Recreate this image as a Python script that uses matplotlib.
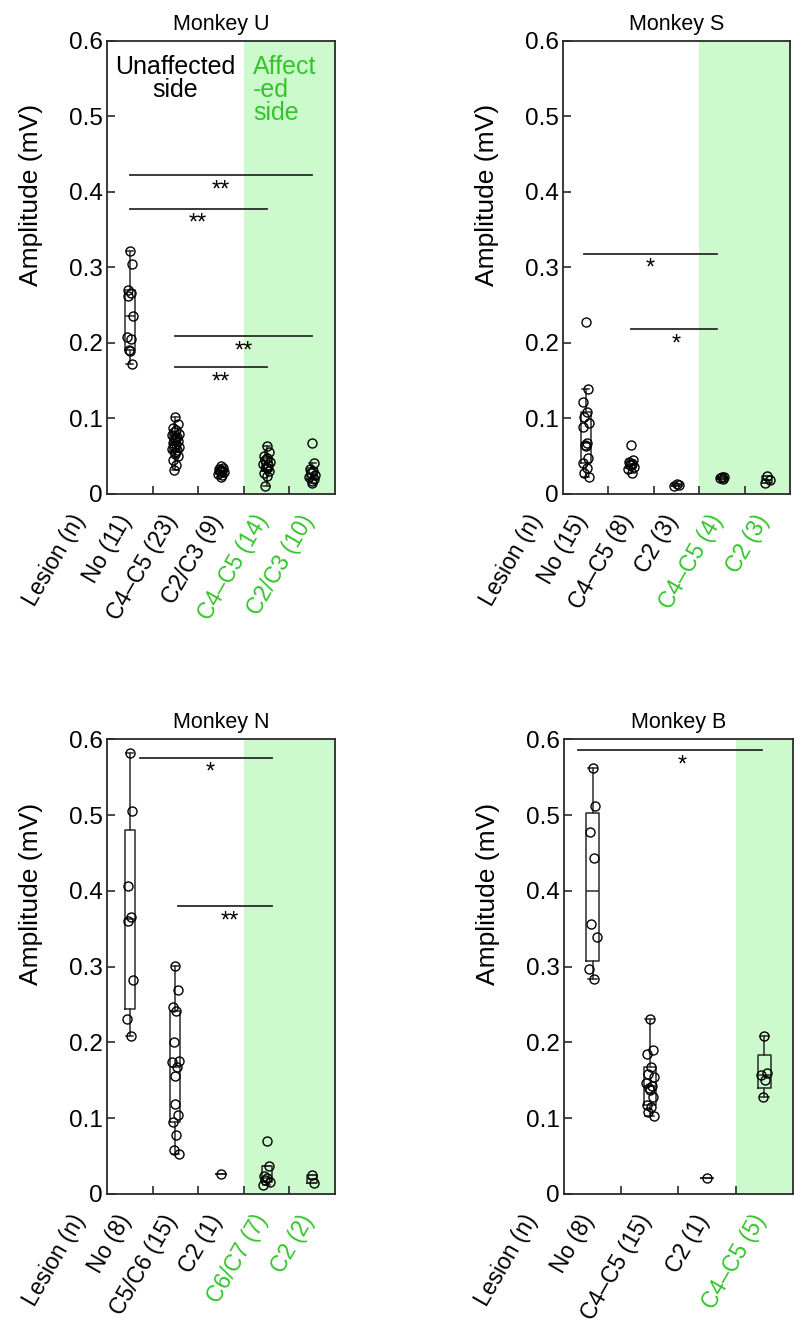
import numpy as np
import matplotlib
matplotlib.use("Agg")
import matplotlib.pyplot as plt

plt.rcParams['font.family'] = ['Liberation Sans', 'DejaVu Sans']

# ---------------- data ----------------
# Monkey U
u_cats = ["No (11)", "C4\u2013C5 (23)", "C2/C3 (9)", "C4\u2013C5 (14)", "C2/C3 (10)"]
u_no = [0.322, 0.305, 0.270, 0.266, 0.262, 0.236, 0.208, 0.205, 0.191, 0.189, 0.172]
u_c45 = [0.102, 0.092, 0.088, 0.085, 0.082, 0.080, 0.078, 0.076, 0.074, 0.072, 0.070, 0.068,
         0.066, 0.064, 0.062, 0.060, 0.058, 0.055, 0.053, 0.050, 0.045, 0.038, 0.032]
u_c23 = [0.037, 0.035, 0.033, 0.031, 0.030, 0.029, 0.027, 0.025, 0.022]
u_c45_aff = [0.064, 0.055, 0.050, 0.047, 0.045, 0.042, 0.040, 0.038, 0.036, 0.034, 0.031,
             0.028, 0.024, 0.011]
u_c23_aff = [0.068, 0.041, 0.033, 0.030, 0.028, 0.025, 0.022, 0.020, 0.017, 0.015]
# significance bars: (from, to, height, label, label x)
u_sig = [(1, 5, 0.422, "**", 3.0), (1, 4, 0.378, "**", 2.5),
         (2, 5, 0.209, "**", 3.5), (2, 4, 0.168, "**", 3.0)]

# Monkey S
s_cats = ["No (15)", "C4\u2013C5 (8)", "C2 (3)", "C4\u2013C5 (4)", "C2 (3)"]
s_no = [0.228, 0.139, 0.122, 0.109, 0.102, 0.094, 0.089, 0.068, 0.065, 0.063, 0.048,
        0.041, 0.034, 0.028, 0.023]
s_c45 = [0.065, 0.045, 0.042, 0.040, 0.038, 0.036, 0.033, 0.028]
s_c2 = [0.013, 0.012, 0.011]
s_c45_aff = [0.023, 0.022, 0.021, 0.020]
s_c2_aff = [0.024, 0.018, 0.015]
s_sig = [(0.96, 3.9, 0.318, "*", 2.42), (2.0, 3.9, 0.218, "*", 3.0)]

# Monkey N
n_cats = ["No (8)", "C5/C6 (15)", "C2 (1)", "C6/C7 (7)", "C2 (2)"]
n_no = [0.582, 0.505, 0.407, 0.365, 0.360, 0.282, 0.231, 0.208]
n_c56 = [0.301, 0.269, 0.247, 0.241, 0.201, 0.175, 0.174, 0.168, 0.156, 0.119, 0.104,
         0.0955, 0.078, 0.058, 0.053]
n_c2 = [0.026]
n_c67_aff = [0.070, 0.0375, 0.024, 0.021, 0.019, 0.016, 0.012]
n_c2_aff = [0.025, 0.0145]
n_sig = [(1.22, 4.13, 0.576, "*", 2.76), (2.06, 4.13, 0.380, "**", 3.2)]

# Monkey B
b_cats = ["No (8)", "C4\u2013C5 (15)", "C2 (1)", "C4\u2013C5 (5)"]
b_no = [0.563, 0.512, 0.478, 0.443, 0.357, 0.339, 0.297, 0.284]
b_c45 = [0.231, 0.190, 0.185, 0.167, 0.158, 0.155, 0.146, 0.143, 0.140, 0.137, 0.128,
         0.118, 0.115, 0.108, 0.103]
b_c2 = [0.021]
b_c45_aff = [0.208, 0.160, 0.157, 0.151, 0.128]
b_sig = [(0.74, 3.96, 0.586, "*", 2.56)]

n_unaffected = 3  # first three groups: unaffected side

# ---------------- style ----------------
GREEN_TXT = "#33c42a"
SHADE = "#ccfacc"
DARK = "#2a2a2a"
FS_TICK = 17.5
FS_X = 16.5
FS_LAB = 19
FS_TITLE = 15.5
FS_STAR = 17
FS_SIDE = 18
JIT = [0.0, 0.05, -0.05, 0.02, -0.03, 0.07, -0.07, 0.03, -0.01]


def box_stats(vals):
    v = np.sort(np.asarray(vals, dtype=float))
    q1, med, q3 = np.percentile(v, [25, 50, 75], method="weibull")
    iqr = q3 - q1
    lo = v[v >= q1 - 1.5 * iqr].min()
    hi = v[v <= q3 + 1.5 * iqr].max()
    return dict(med=med, q1=q1, q3=q3, whislo=lo, whishi=hi, fliers=[])


def panel(ax, title, cats, groups, sig):
    n = len(cats)
    pos = np.arange(1, n + 1)
    ax.axvspan(n_unaffected + 0.5, n + 0.5, color=SHADE, lw=0, zorder=0)
    stats = [box_stats(g) for g in groups]
    lp = dict(color=DARK, lw=1.1)
    ax.bxp(stats, positions=pos, widths=0.22, showfliers=False,
           boxprops=lp, whiskerprops=lp, capprops=lp, medianprops=lp,
           capwidths=0.16, manage_ticks=False, zorder=2)
    for p, g in zip(pos, groups):
        xs = [p + JIT[i % len(JIT)] for i in range(len(g))]
        ax.plot(xs, g, 'o', mfc='none', mec='black', mew=1.0, ms=6.5, zorder=3)
    for x1, x2, y, lab, xl in sig:
        ax.plot([x1, x2], [y, y], color=DARK, lw=1.3, zorder=3)
        ax.annotate(lab, xy=(xl, y), xytext=(0, -3), textcoords='offset points',
                    ha='center', va='top', fontsize=FS_STAR, zorder=4)
    ax.set_xlim(0.5, n + 0.5)
    ax.set_ylim(0, 0.6)
    ax.set_yticks(np.arange(0, 0.61, 0.1))
    ax.set_yticklabels(["0", "0.1", "0.2", "0.3", "0.4", "0.5", "0.6"])
    ax.set_xticks(pos)
    ax.set_xticklabels([])
    ax.set_xticks(np.arange(1.5, n, 1.0), minor=True)
    ax.tick_params(axis='x', which='major', length=0)
    ax.tick_params(axis='x', which='minor', direction='in', length=6, width=1.2, color=DARK)
    ax.tick_params(axis='y', direction='in', length=6, width=1.2, color=DARK,
                   labelsize=FS_TICK, pad=3)
    for sp in ax.spines.values():
        sp.set_color(DARK)
        sp.set_linewidth(1.3)
    labels = ["Lesion (n)"] + list(cats)
    for i, lab in enumerate(labels):
        col = GREEN_TXT if i > n_unaffected else "black"
        ax.annotate(lab, xy=(i, 0), xycoords=('data', 'axes fraction'),
                    xytext=(-10, -12), textcoords='offset points',
                    rotation=60, ha='right', va='top', rotation_mode='anchor',
                    fontsize=FS_X, color=col, annotation_clip=False)
    ax.set_ylabel("Amplitude (mV)", fontsize=FS_LAB)
    ax.yaxis.set_label_coords(-0.28, 0.66)
    ax.set_title(title, fontsize=FS_TITLE, pad=8)


fig = plt.figure(figsize=(7.96, 13.25), dpi=100)
axU = fig.add_axes([0.1344, 0.6272, 0.2864, 0.3419])
axS = fig.add_axes([0.7073, 0.6272, 0.2852, 0.3419])
axN = fig.add_axes([0.1344, 0.0989, 0.2864, 0.3430])
axB = fig.add_axes([0.7085, 0.0989, 0.2877, 0.3430])

panel(axU, "Monkey U", u_cats, [u_no, u_c45, u_c23, u_c45_aff, u_c23_aff], u_sig)
panel(axS, "Monkey S", s_cats, [s_no, s_c45, s_c2, s_c45_aff, s_c2_aff], s_sig)
panel(axN, "Monkey N", n_cats, [n_no, n_c56, n_c2, n_c67_aff, n_c2_aff], n_sig)
panel(axB, "Monkey B", b_cats, [b_no, b_c45, b_c2, b_c45_aff], b_sig)

axU.text(2.0, 0.582, "Unaffected\nside", ha='center', va='top', fontsize=FS_SIDE,
         linespacing=0.95, zorder=4)
axU.text(3.7, 0.582, "Affect\n-ed\nside", ha='left', va='top', fontsize=FS_SIDE,
         color=GREEN_TXT, linespacing=0.95, zorder=4)

fig.savefig("out.png", dpi=100)
